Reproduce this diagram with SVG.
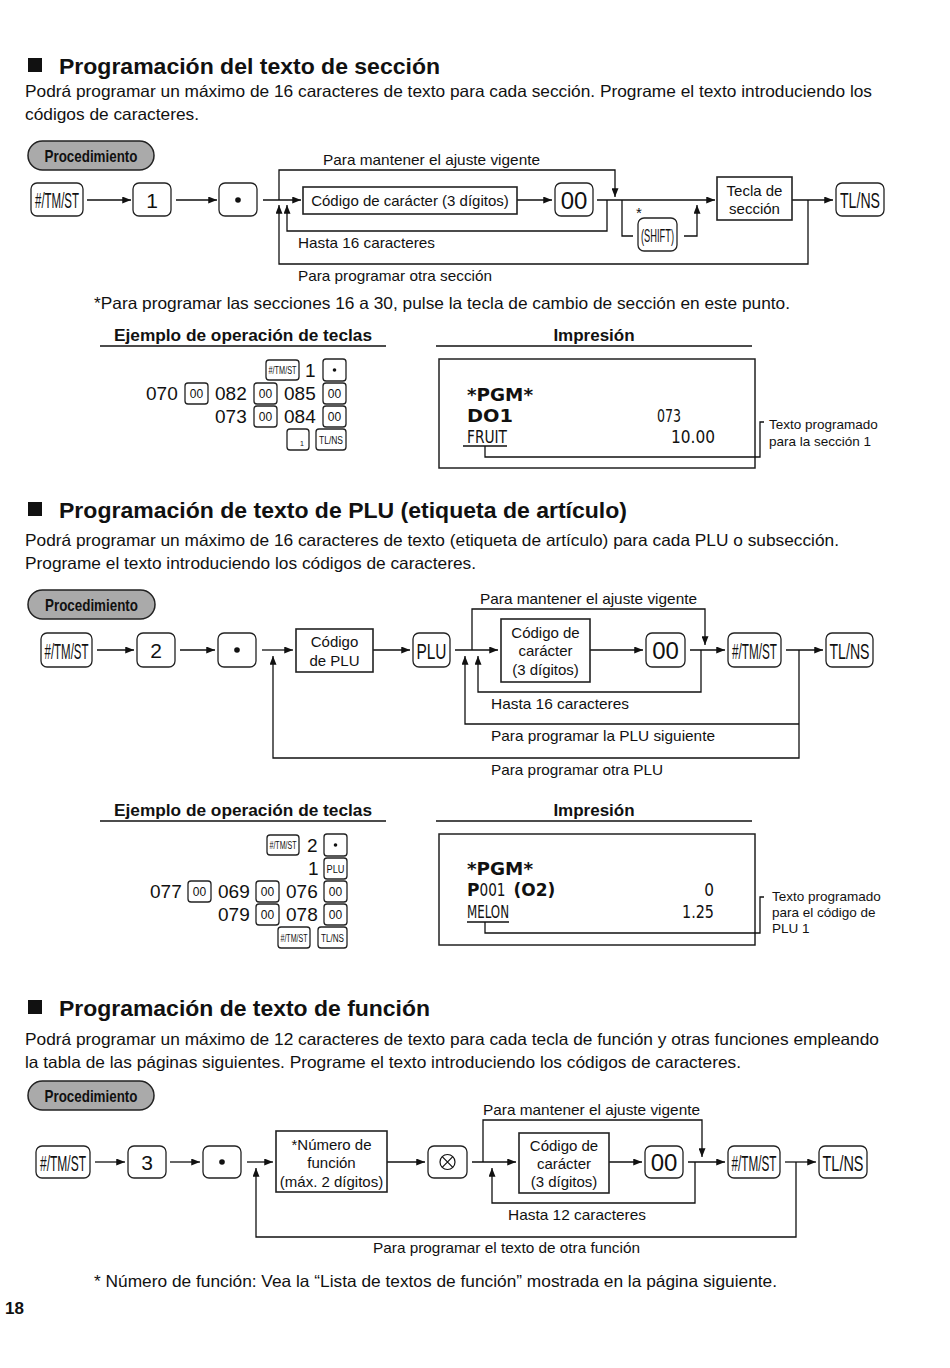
<svg xmlns="http://www.w3.org/2000/svg" width="950" height="1368" viewBox="0 0 950 1368">
<defs>
<marker id="ah" viewBox="0 0 10 8" refX="10" refY="4" markerWidth="10" markerHeight="7" markerUnits="userSpaceOnUse" orient="auto"><path d="M0,0 L10,4 L0,8z" fill="#111"/></marker>
<style>
text{font-family:"Liberation Sans",Arial,sans-serif;fill:#111}
.h{font-size:22px;font-weight:bold}
.p{font-size:16.5px}
.l{font-size:15px}
.s{font-size:13.5px}
.b{font-size:17px;font-weight:bold}
.key{fill:#fff;stroke:#222;stroke-width:1.3}
.box{fill:#fff;stroke:#222;stroke-width:1.6}
.pill{fill:#aaa;stroke:#222;stroke-width:1.5}
.c{fill:none;stroke:#111;stroke-width:1.3}
.a{fill:none;stroke:#111;stroke-width:1.3;marker-end:url(#ah)}
.kt{font-size:22px;text-anchor:middle}
.kn{font-size:21px;text-anchor:middle}
.m{text-anchor:middle}
.num{font-size:19px}
.sk{font-size:10px;text-anchor:middle}
.rc{font-family:"DejaVu Sans",sans-serif;font-weight:bold;font-size:17px}
.rn{font-family:"DejaVu Sans",sans-serif;font-size:17px;font-stretch:condensed}
.line{stroke:#111;stroke-width:1.3}
</style>
</defs>
<rect width="950" height="1368" fill="#fff"/>

<!-- ============ Section 1 ============ -->
<g id="sec1-title">
<rect x="28" y="58" width="14" height="14" fill="#111"/>
<text class="h" x="59" y="74" textLength="381" lengthAdjust="spacingAndGlyphs">Programación del texto de sección</text>
<text class="p" x="25" y="97" textLength="847" lengthAdjust="spacingAndGlyphs">Podrá programar un máximo de 16 caracteres de texto para cada sección. Programe el texto introduciendo los</text>
<text class="p" x="25" y="120" textLength="174" lengthAdjust="spacingAndGlyphs">códigos de caracteres.</text>
</g>
<g id="s1-proc"><rect class="pill" x="28" y="141" width="126" height="29" rx="14.5"/><text class="b m" x="91" y="162" textLength="93" lengthAdjust="spacingAndGlyphs">Procedimiento</text></g>

<g id="s1-connectors">
<path class="a" d="M87,200 H131"/>
<path class="a" d="M176,200 H217"/>
<path class="a" d="M263,200 H301"/>
<path class="a" d="M279,200 V170 H615 V197"/>
<path class="a" d="M607,200 V231 H287 V205"/>
<path class="a" d="M808,200 V264 H279 V205"/>
<path class="a" d="M517,200 H552"/>
<path class="a" d="M597,200 H715"/>
<path class="c" d="M622,200 V236 H633"/>
<path class="a" d="M684,236 H697 V205"/>
<path class="a" d="M792,200 H833"/>
</g>
<g id="s1-tmst"><rect class="key" x="31" y="183" width="52" height="33" rx="6"/><text class="kt" x="57" y="208" textLength="44" lengthAdjust="spacingAndGlyphs">#/TM/ST</text></g>
<g id="s1-k1"><rect class="key" x="133" y="183" width="38" height="33" rx="6"/><text class="kn" x="152" y="208">1</text></g>
<g id="s1-dot"><rect class="key" x="219" y="183" width="38" height="33" rx="6"/><circle cx="238" cy="200" r="2.8" fill="#111"/></g>
<g id="s1-code"><rect class="box" x="303" y="187" width="214" height="27"/><text class="l m" x="410" y="206">Código de carácter (3 dígitos)</text></g>
<g id="s1-00"><rect class="key" x="555" y="183" width="38" height="33" rx="6"/><text class="kt" x="574" y="209" style="font-size:24px">00</text></g>
<g id="s1-shift"><text class="l" x="636" y="218">*</text><rect class="key" x="638" y="218" width="39" height="33" rx="6"/><text class="m" x="657.5" y="242" style="font-size:18px" textLength="33" lengthAdjust="spacingAndGlyphs">(SHIFT)</text></g>
<g id="s1-tecla"><rect class="box" x="717" y="177" width="75" height="43"/><text class="l m" x="754.5" y="196">Tecla de</text><text class="l m" x="754.5" y="214">sección</text></g>
<g id="s1-tlns"><rect class="key" x="836" y="183" width="48" height="33" rx="6"/><text class="kt" x="860" y="208" textLength="40" lengthAdjust="spacingAndGlyphs">TL/NS</text></g>
<g id="s1-labels">
<text class="l" x="323" y="165" textLength="217" lengthAdjust="spacingAndGlyphs">Para mantener el ajuste vigente</text>
<text class="l" x="298" y="248" textLength="137" lengthAdjust="spacingAndGlyphs">Hasta 16 caracteres</text>
<text class="l" x="298" y="281" textLength="194" lengthAdjust="spacingAndGlyphs">Para programar otra sección</text>
<text class="p" x="94" y="309" textLength="696" lengthAdjust="spacingAndGlyphs">*Para programar las secciones 16 a 30, pulse la tecla de cambio de sección en este punto.</text>
</g>

<g id="s1-example">
<text class="b" x="114" y="341" textLength="258" lengthAdjust="spacingAndGlyphs">Ejemplo de operación de teclas</text>
<line class="line" x1="100" y1="346" x2="386" y2="346"/>
<rect class="key" x="266" y="360" width="33" height="20" rx="3"/><text class="sk" x="282.5" y="374" textLength="28" lengthAdjust="spacingAndGlyphs">#/TM/ST</text>
<text class="num" x="305" y="377">1</text>
<rect class="key" x="323" y="359" width="23" height="22" rx="3"/><circle cx="334.5" cy="370" r="1.8" fill="#111"/>
<text class="num" x="146" y="400">070</text>
<rect class="key" x="185" y="383" width="23" height="21" rx="3"/><text class="m" x="196.5" y="398" style="font-size:12px">00</text>
<text class="num" x="215" y="400">082</text>
<rect class="key" x="254" y="383" width="23" height="21" rx="3"/><text class="m" x="265.5" y="398" style="font-size:12px">00</text>
<text class="num" x="284" y="400">085</text>
<rect class="key" x="323" y="383" width="23" height="21" rx="3"/><text class="m" x="334.5" y="398" style="font-size:12px">00</text>
<text class="num" x="215" y="423">073</text>
<rect class="key" x="254" y="406" width="23" height="21" rx="3"/><text class="m" x="265.5" y="421" style="font-size:12px">00</text>
<text class="num" x="284" y="423">084</text>
<rect class="key" x="323" y="406" width="23" height="21" rx="3"/><text class="m" x="334.5" y="421" style="font-size:12px">00</text>
<rect class="key" x="287" y="429" width="22" height="21" rx="3"/><text x="300" y="446" style="font-size:7px">1</text>
<rect class="key" x="316" y="429" width="30" height="21" rx="3"/><text class="sk" x="331" y="444" textLength="24" lengthAdjust="spacingAndGlyphs">TL/NS</text>
</g>

<g id="s1-print">
<text class="b m" x="594" y="341">Impresión</text>
<line class="line" x1="436" y1="346" x2="752" y2="346"/>
<rect x="439" y="359" width="316" height="109" fill="#fff" stroke="#222" stroke-width="1.5"/>
<text class="rc" x="467" y="401" textLength="66" lengthAdjust="spacingAndGlyphs">*PGM*</text>
<text class="rc" x="467" y="422" textLength="46" lengthAdjust="spacingAndGlyphs">DO1</text>
<text class="rn" x="467" y="443" textLength="40" lengthAdjust="spacingAndGlyphs">FRUIT</text>
<text class="rn" x="657" y="422" textLength="24" lengthAdjust="spacingAndGlyphs">073</text>
<text class="rn" x="671" y="443" textLength="44" lengthAdjust="spacingAndGlyphs">10.00</text>
<path class="c" d="M463,446 H507 M485,446 V457 H760 V422 H764"/>
<text class="s" x="769" y="429">Texto programado</text>
<text class="s" x="769" y="446">para la sección 1</text>
</g>

<!-- ============ Section 2 ============ -->
<g id="sec2-title">
<rect x="28" y="502" width="14" height="14" fill="#111"/>
<text class="h" x="59" y="518" textLength="568" lengthAdjust="spacingAndGlyphs">Programación de texto de PLU (etiqueta de artículo)</text>
<text class="p" x="25" y="546" textLength="814" lengthAdjust="spacingAndGlyphs">Podrá programar un máximo de 16 caracteres de texto (etiqueta de artículo) para cada PLU o subsección.</text>
<text class="p" x="25" y="569" textLength="451" lengthAdjust="spacingAndGlyphs">Programe el texto introduciendo los códigos de caracteres.</text>
</g>
<g id="s2-proc"><rect class="pill" x="28" y="590" width="127" height="29" rx="14.5"/><text class="b m" x="91.5" y="611" textLength="93" lengthAdjust="spacingAndGlyphs">Procedimiento</text></g>

<g id="s2-connectors">
<path class="a" d="M97,650 H134"/>
<path class="a" d="M180,650 H215"/>
<path class="a" d="M262,650 H293"/>
<path class="a" d="M799,650 V758 H273 V656"/>
<path class="a" d="M373,650 H410"/>
<path class="a" d="M455,650 H498"/>
<path class="a" d="M799,724 H465 V656"/>
<path class="a" d="M701,650 V692 H478 V656"/>
<path class="a" d="M472,650 V609 H705 V645"/>
<path class="a" d="M590,650 H643"/>
<path class="a" d="M690,650 H725"/>
<path class="a" d="M786,650 H823"/>
</g>
<g id="s2-tmst"><rect class="key" x="41" y="633" width="51" height="34" rx="6"/><text class="kt" x="66.5" y="659" textLength="44" lengthAdjust="spacingAndGlyphs">#/TM/ST</text></g>
<g id="s2-k2"><rect class="key" x="137" y="633" width="38" height="34" rx="6"/><text class="kn" x="156" y="658">2</text></g>
<g id="s2-dot"><rect class="key" x="218" y="633" width="38" height="34" rx="6"/><circle cx="237" cy="650" r="2.8" fill="#111"/></g>
<g id="s2-plucode"><rect class="box" x="296" y="629" width="77" height="43"/><text class="l m" x="334.5" y="647">Código</text><text class="l m" x="334.5" y="666">de PLU</text></g>
<g id="s2-plu"><rect class="key" x="413" y="633" width="37" height="34" rx="6"/><text class="kt" x="431.5" y="659" textLength="30" lengthAdjust="spacingAndGlyphs">PLU</text></g>
<g id="s2-code"><rect class="box" x="501" y="619" width="89" height="63"/><text class="l m" x="545.5" y="638">Código de</text><text class="l m" x="545.5" y="656">carácter</text><text class="l m" x="545.5" y="675">(3 dígitos)</text></g>
<g id="s2-00"><rect class="key" x="646" y="633" width="39" height="34" rx="6"/><text class="kt" x="665.5" y="659" style="font-size:24px">00</text></g>
<g id="s2-tmst2"><rect class="key" x="728" y="633" width="53" height="34" rx="6"/><text class="kt" x="754.5" y="659" textLength="45" lengthAdjust="spacingAndGlyphs">#/TM/ST</text></g>
<g id="s2-tlns"><rect class="key" x="826" y="633" width="47" height="34" rx="6"/><text class="kt" x="849.5" y="659" textLength="40" lengthAdjust="spacingAndGlyphs">TL/NS</text></g>
<g id="s2-labels">
<text class="l" x="480" y="604" textLength="217" lengthAdjust="spacingAndGlyphs">Para mantener el ajuste vigente</text>
<text class="l" x="491" y="709" textLength="138" lengthAdjust="spacingAndGlyphs">Hasta 16 caracteres</text>
<text class="l" x="491" y="741" textLength="224" lengthAdjust="spacingAndGlyphs">Para programar la PLU siguiente</text>
<text class="l" x="491" y="775" textLength="172" lengthAdjust="spacingAndGlyphs">Para programar otra PLU</text>
</g>

<g id="s2-example">
<text class="b" x="114" y="816" textLength="258" lengthAdjust="spacingAndGlyphs">Ejemplo de operación de teclas</text>
<line class="line" x1="100" y1="821" x2="386" y2="821"/>
<rect class="key" x="267" y="835" width="32" height="20" rx="3"/><text class="sk" x="283" y="849" textLength="27" lengthAdjust="spacingAndGlyphs">#/TM/ST</text>
<text class="num" x="307" y="852">2</text>
<rect class="key" x="324" y="834" width="23" height="22" rx="3"/><circle cx="335.5" cy="845" r="1.8" fill="#111"/>
<text class="num" x="308" y="875">1</text>
<rect class="key" x="324" y="858" width="23" height="21" rx="3"/><text class="sk" x="335.5" y="873" textLength="18" lengthAdjust="spacingAndGlyphs">PLU</text>
<text class="num" x="150" y="898">077</text>
<rect class="key" x="188" y="881" width="23" height="21" rx="3"/><text class="m" x="199.5" y="896" style="font-size:12px">00</text>
<text class="num" x="218" y="898">069</text>
<rect class="key" x="256" y="881" width="23" height="21" rx="3"/><text class="m" x="267.5" y="896" style="font-size:12px">00</text>
<text class="num" x="286" y="898">076</text>
<rect class="key" x="324" y="881" width="23" height="21" rx="3"/><text class="m" x="335.5" y="896" style="font-size:12px">00</text>
<text class="num" x="218" y="921">079</text>
<rect class="key" x="256" y="904" width="23" height="21" rx="3"/><text class="m" x="267.5" y="919" style="font-size:12px">00</text>
<text class="num" x="286" y="921">078</text>
<rect class="key" x="324" y="904" width="23" height="21" rx="3"/><text class="m" x="335.5" y="919" style="font-size:12px">00</text>
<rect class="key" x="278" y="927" width="32" height="21" rx="3"/><text class="sk" x="294" y="942" textLength="27" lengthAdjust="spacingAndGlyphs">#/TM/ST</text>
<rect class="key" x="318" y="927" width="29" height="21" rx="3"/><text class="sk" x="332.5" y="942" textLength="23" lengthAdjust="spacingAndGlyphs">TL/NS</text>
</g>

<g id="s2-print">
<text class="b m" x="594" y="816">Impresión</text>
<line class="line" x1="436" y1="821" x2="752" y2="821"/>
<rect x="439" y="834" width="316" height="111" fill="#fff" stroke="#222" stroke-width="1.5"/>
<text class="rc" x="467" y="875" textLength="66" lengthAdjust="spacingAndGlyphs">*PGM*</text>
<text x="467" y="896"><tspan class="rc">P</tspan><tspan class="rn" textLength="26" lengthAdjust="spacingAndGlyphs">001</tspan><tspan class="rc" dx="8">(O2)</tspan></text>
<text class="rn" x="467" y="918" textLength="42" lengthAdjust="spacingAndGlyphs">MELON</text>
<text class="rn" x="714" y="896" text-anchor="end">0</text>
<text class="rn" x="682" y="918" textLength="32" lengthAdjust="spacingAndGlyphs">1.25</text>
<path class="c" d="M467,922 H509 M485,922 V933 H760 V897 H764"/>
<text class="s" x="772" y="901">Texto programado</text>
<text class="s" x="772" y="917">para el código de</text>
<text class="s" x="772" y="933">PLU 1</text>
</g>

<!-- ============ Section 3 ============ -->
<g id="sec3-title">
<rect x="28" y="1000" width="14" height="14" fill="#111"/>
<text class="h" x="59" y="1016" textLength="371" lengthAdjust="spacingAndGlyphs">Programación de texto de función</text>
<text class="p" x="25" y="1045" textLength="854" lengthAdjust="spacingAndGlyphs">Podrá programar un máximo de 12 caracteres de texto para cada tecla de función y otras funciones empleando</text>
<text class="p" x="25" y="1068" textLength="716" lengthAdjust="spacingAndGlyphs">la tabla de las páginas siguientes. Programe el texto introduciendo los códigos de caracteres.</text>
</g>
<g id="s3-proc"><rect class="pill" x="28" y="1081" width="126" height="29" rx="14.5"/><text class="b m" x="91" y="1102" textLength="93" lengthAdjust="spacingAndGlyphs">Procedimiento</text></g>

<g id="s3-connectors">
<path class="a" d="M95,1162 H125"/>
<path class="a" d="M170,1162 H200"/>
<path class="a" d="M247,1162 H273"/>
<path class="a" d="M796,1162 V1237 H256 V1168"/>
<path class="a" d="M387,1162 H425"/>
<path class="a" d="M472,1162 H516"/>
<path class="a" d="M483,1162 V1120 H702 V1157"/>
<path class="a" d="M695,1162 V1203 H492 V1168"/>
<path class="a" d="M609,1162 H642"/>
<path class="a" d="M688,1162 H725"/>
<path class="a" d="M785,1162 H816"/>
</g>
<g id="s3-tmst"><rect class="key" x="36" y="1146" width="54" height="32" rx="6"/><text class="kt" x="63" y="1171" textLength="46" lengthAdjust="spacingAndGlyphs">#/TM/ST</text></g>
<g id="s3-k3"><rect class="key" x="128" y="1146" width="38" height="32" rx="6"/><text class="kn" x="147" y="1170">3</text></g>
<g id="s3-dot"><rect class="key" x="203" y="1146" width="38" height="32" rx="6"/><circle cx="222" cy="1162" r="2.8" fill="#111"/></g>
<g id="s3-num"><rect class="box" x="276" y="1131" width="111" height="61"/><text class="l m" x="331.5" y="1150">*Número de</text><text class="l m" x="331.5" y="1168">función</text><text class="l m" x="331.5" y="1187">(máx. 2 dígitos)</text></g>
<g id="s3-x"><rect class="key" x="428" y="1146" width="39" height="32" rx="6"/><circle cx="447.5" cy="1162" r="7.5" fill="none" stroke="#111" stroke-width="1.2"/><path d="M442.2,1156.7 L452.8,1167.3 M452.8,1156.7 L442.2,1167.3" stroke="#111" stroke-width="1.2"/></g>
<g id="s3-code"><rect class="box" x="519" y="1133" width="90" height="60"/><text class="l m" x="564" y="1151">Código de</text><text class="l m" x="564" y="1169">carácter</text><text class="l m" x="564" y="1187">(3 dígitos)</text></g>
<g id="s3-00"><rect class="key" x="645" y="1146" width="38" height="32" rx="6"/><text class="kt" x="664" y="1171" style="font-size:24px">00</text></g>
<g id="s3-tmst2"><rect class="key" x="728" y="1146" width="52" height="32" rx="6"/><text class="kt" x="754" y="1171" textLength="45" lengthAdjust="spacingAndGlyphs">#/TM/ST</text></g>
<g id="s3-tlns"><rect class="key" x="819" y="1146" width="48" height="32" rx="6"/><text class="kt" x="843" y="1171" textLength="41" lengthAdjust="spacingAndGlyphs">TL/NS</text></g>
<g id="s3-labels">
<text class="l" x="483" y="1115" textLength="217" lengthAdjust="spacingAndGlyphs">Para mantener el ajuste vigente</text>
<text class="l" x="508" y="1220" textLength="138" lengthAdjust="spacingAndGlyphs">Hasta 12 caracteres</text>
<text class="l" x="373" y="1253" textLength="267" lengthAdjust="spacingAndGlyphs">Para programar el texto de otra función</text>
<text class="p" x="94" y="1287" textLength="683" lengthAdjust="spacingAndGlyphs">* Número de función: Vea la “Lista de textos de función” mostrada en la página siguiente.</text>
</g>
<g id="page"><text class="b" x="5" y="1314">18</text></g>
</svg>
